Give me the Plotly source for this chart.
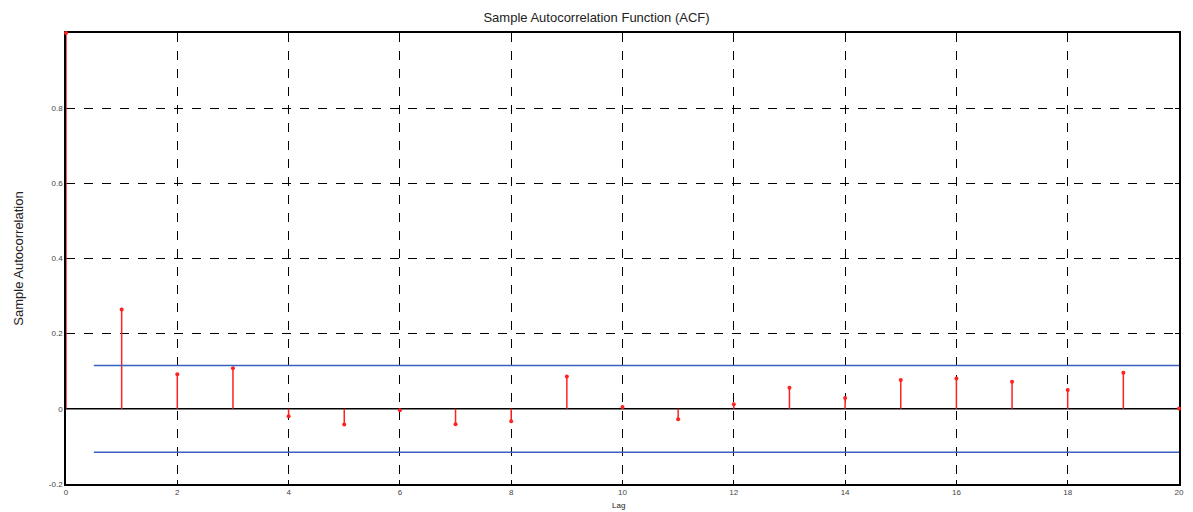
import plotly.graph_objects as go

lags = list(range(0, 21))
acf = [1.0, 0.264, 0.092, 0.108, -0.020, -0.042, -0.004, -0.041, -0.033, 0.086,
       0.005, -0.028, 0.012, 0.056, 0.029, 0.077, 0.081, 0.072, 0.050, 0.096, 0.001]
bound = 0.1155
bound_x = [0.5, 20]
xticks = list(range(0, 21, 2))
yticks = [-0.2, 0, 0.2, 0.4, 0.6, 0.8]
ytick_text = ["-0.2", "0", "0.2", "0.4", "0.6", "0.8"]

stem_x, stem_y = [], []
for k, v in zip(lags, acf):
    stem_x += [k, k, None]
    stem_y += [0, v, None]

fig = go.Figure()
# zero line
fig.add_trace(go.Scatter(x=[0, 20], y=[0, 0], mode="lines",
                         line=dict(color="black", width=1.5), hoverinfo="skip"))
fig.add_trace(go.Scatter(x=stem_x, y=stem_y, mode="lines", cliponaxis=False,
                         line=dict(color="#ff2020", width=1.5), hoverinfo="skip"))
fig.add_trace(go.Scatter(x=lags, y=acf, mode="markers", cliponaxis=False,
                         marker=dict(color="#ff2020", size=4)))
fig.add_trace(go.Scatter(x=bound_x, y=[bound, bound], mode="lines",
                         line=dict(color="#3a5fbf", width=1.5)))
fig.add_trace(go.Scatter(x=bound_x, y=[-bound, -bound], mode="lines",
                         line=dict(color="#3a5fbf", width=1.5)))

tickfont = dict(family="Liberation Sans, Arial, sans-serif", size=8, color="#444")
fig.update_layout(
    width=1193, height=512,
    margin=dict(l=66, r=9, t=33, b=28),
    paper_bgcolor="white", plot_bgcolor="white",
    showlegend=False,
    title=dict(text="Sample Autocorrelation Function (ACF)", x=0.5, xanchor="center",
               y=1 - 17 / 512, yanchor="middle",
               font=dict(family="Liberation Sans, Arial, sans-serif", size=13, color="#222")),
    xaxis=dict(range=[0, 20], tickvals=xticks, ticks="inside", ticklen=4,
               tickcolor="black", showgrid=True, gridcolor="black", griddash="dash",
               gridwidth=1, zeroline=False, showline=True, linecolor="black",
               linewidth=1.5, mirror="ticks", tickfont=tickfont, layer="below traces"),
    yaxis=dict(range=[-0.2, 1.0], tickvals=yticks, ticktext=ytick_text,
               ticks="inside", ticklen=4, tickcolor="black",
               showgrid=True, gridcolor="black", griddash="dash", gridwidth=1,
               zeroline=False, showline=True, linecolor="black", linewidth=1.5,
               mirror="ticks", tickfont=tickfont, layer="below traces"),
    annotations=[
        dict(text="Sample Autocorrelation", xref="paper", yref="paper",
             x=(18 - 66) / 1118, y=0.5, textangle=-90, showarrow=False,
             xanchor="center", yanchor="middle",
             font=dict(family="Liberation Sans, Arial, sans-serif", size=13, color="#222")),
        dict(text="Lag", xref="paper", yref="paper",
             x=(621 - 66) / 1118, y=-(505 - 484) / 451, showarrow=False,
             xanchor="center", yanchor="middle",
             font=dict(family="Liberation Sans, Arial, sans-serif", size=8, color="#222")),
    ],
)
fig.write_html("out.html")
